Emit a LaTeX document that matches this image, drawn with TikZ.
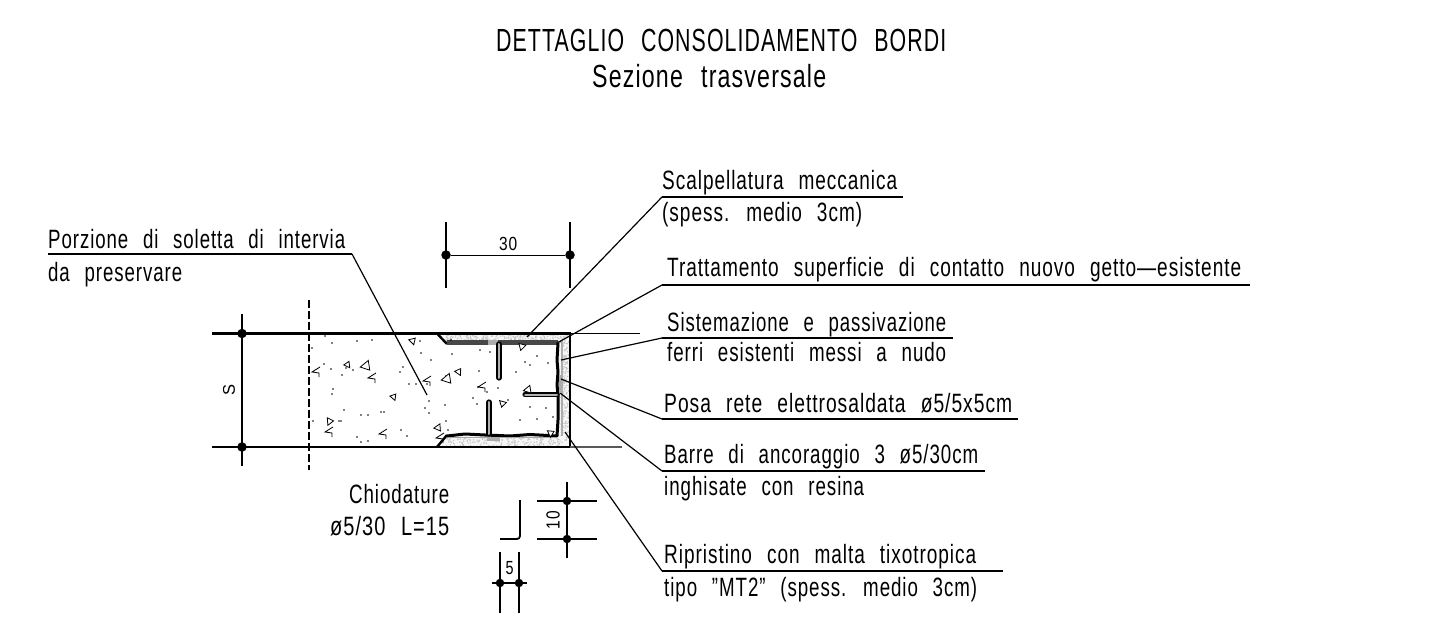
\documentclass[tikz,border=0pt]{standalone}
\usepackage{fontspec}
\usepackage{graphicx}
\setmainfont{Liberation Sans}[LetterSpace=5,WordSpace=2.4]
\newcommand{\ct}[2]{\resizebox{#1pt}{\height}{#2}}
\tikzset{
 x=1pt,y=-1pt,
 lab/.style={anchor=base west,inner sep=0pt,font=\fontsize{26.5}{25}\selectfont},
 ttl/.style={anchor=base west,inner sep=0pt,font=\fontsize{32}{31}\selectfont},
 uline/.style={line width=1.1pt,black},
 leader/.style={line width=1.2pt,black},
 outline/.style={line width=2.4pt,black},
 dimline/.style={line width=1.2pt,black},
 dimdot/.style={circle,fill=black,inner sep=0pt,minimum size=9.5pt},
 rebar/.style={line width=1.6pt,black,double=gray!60,double distance=2pt,line cap=round,line join=round},
 stone/.style={line width=.8pt,black,fill=white},
}
\begin{document}
\begin{tikzpicture}
\useasboundingbox (0,0) rectangle (1430,636);
\fill[white] (0,0) rectangle (1430,636);
% title
\node[ttl] (t1) at (496,52) {\ct{450}{DETTAGLIO CONSOLIDAMENTO BORDI}};
\node[ttl] (t2) at (592,88) {\ct{234}{Sezione trasversale}};
% mortar
\fill[gray!7] (437,334) -- (570,334) -- (570,447) -- (437,447) -- (447,436) -- (557,436) -- (557,343) -- (447,343) -- cycle;
\pgfmathsetseed{11}
\foreach \i in {1,...,170}{
 \pgfmathsetmacro{\px}{446+rnd*122}\pgfmathsetmacro{\py}{335+rnd*6}
 \fill[gray!45] (\px,\py) circle (.8pt);}
\foreach \i in {1,...,170}{
 \pgfmathsetmacro{\px}{446+rnd*122}\pgfmathsetmacro{\py}{438+rnd*8}
 \fill[gray!45] (\px,\py) circle (.8pt);}
\foreach \i in {1,...,160}{
 \pgfmathsetmacro{\px}{561+rnd*8}\pgfmathsetmacro{\py}{342+rnd*96}
 \fill[gray!45] (\px,\py) circle (.8pt);}
% section outline
\coordinate (tl) at (212,333.5);
\coordinate (c1) at (437,333.5);
\coordinate (c2) at (447,344);
\coordinate (tr) at (570,333.5);
\coordinate (br) at (570,447);
\coordinate (bl) at (212,447);
\coordinate (c3) at (437,447);
\coordinate (c4) at (447,435);
\draw[outline] (tl) -- (tr) -- (br) -- (bl);
\draw[outline] (c1) -- (c2);
\draw[outline] (c3) -- (c4);
\draw[line width=1pt,black] (tr) -- (640,333.5);
\draw[line width=1.4pt,gray!70!black] (br) -- (622,447);
\draw[line width=1.2pt,black,dash pattern=on 8pt off 3pt] (309,300) -- (309,470);
% treatment layers
\draw[line width=2.2pt,gray!65] (555,342) -- (562,342) -- (562,436);
\draw[line width=5pt,black!72] (447,342.5) -- (558,342.5);
\draw[line width=3pt,black,line join=round]
 (558,343) -- (557,360) -- (558,372) -- (557,385) -- (558,394)
 -- (558,420) -- (557,436) -- (530,434.5) -- (510,436) -- (485,435) -- (465,434) -- (447,436);
\draw[line width=1pt,gray!70] (449,437.5) -- (556,437.5);
\fill[gray!65] (487,437) rectangle (500,441);
\fill[gray!65] (559,375) rectangle (563,392);
\fill[gray!65] (488,340) rectangle (498,345);
\draw[rebar] (499,344) -- (499,378);
\draw[rebar] (489,402) -- (489,434);
\draw[rebar] (525,394.5) -- (557,394.5);
% dimension S
\coordinate (s0) at (242,314);
\coordinate (s1) at (242,466);
\draw[dimline] (s0) -- (s1);
\node[dimdot] (sa) at (242,333.5) {};
\node[dimdot] (sb) at (242,447) {};
\node[rotate=90,inner sep=0pt,font=\fontsize{17}{17}\selectfont] (stxt) at (229,390) {\ct{11}{S}};
% dimension 30
\coordinate (a0) at (446,222);
\coordinate (a1) at (446,288);
\coordinate (b0) at (570,222);
\coordinate (b1) at (570,288);
\draw[dimline] (a0) -- (a1);
\draw[dimline] (b0) -- (b1);
\node[dimdot] (da) at (446,255) {};
\node[dimdot] (db) at (570,255) {};
\draw[line width=.9pt] (da) -- (db);
\node[anchor=base west,inner sep=0pt,font=\fontsize{19}{17}\selectfont] (n30) at (499,251) {\ct{18}{30}};
% concrete
\foreach \x/\y in {325/336,332/343,357/341,372/340,312/348,324/364,331/369,353/370,342/375,346/368,333/389,332/394,344/410,361/415,368/415,381/412,384/412,357/437,361/442,368/441,401/430,407/436,313/421,339/421,341/421,403/367,420/341,421/353,431/360,446/376,429/401,429/413,425/408,400/372,409/384,416/384,427/384,445/405,446/421,448/430,
 451/340,452/354,480/350,490/352,479/371,478/387,498/388,508/400,516/372,525/362,530/365,537/356,548/363,530/407,537/419,520/420,553/417,546/408,487/392,473/398,477/404}{
 \fill (\x,\y) circle (.8pt);}
\foreach \x/\y/\r/\s in {412/341/80/3.4,347/365/100/3.2,366/365/-15/5,393/397/85/3.2,329/421/40/3.6,447/378/-15/5,458/372/90/3.4,503/403/-70/3.4,438/427/-20/3.6,522/347/170/3.6,528/389/-15/4,550/433/60/3.4}{
 \draw[stone,rotate around={\r:(\x,\y)}] (\x-\s,\y+\s*.7) -- (\x+\s,\y+\s*.8) -- (\x+\s*.2,\y-\s) -- cycle;}
\foreach \x/\y in {316/372,372/378,427/381,482/387,329/432,383/434,440/438}{
 \draw[line width=.8pt] (\x+4,\y-5) -- (\x-4,\y) -- (\x+3,\y+1) -- (\x+3,\y+5);}
% anchor points of leaders
\coordinate (p1) at (427,395);
\coordinate (p2) at (527,337);
\coordinate (p3) at (557,343);
\coordinate (p4) at (561,360);
\coordinate (p5) at (561,379);
\coordinate (p6) at (560,393);
\coordinate (p7) at (565,432);
% underlines
\coordinate (u1a) at (48,254);\coordinate (u1b) at (352,254);
\coordinate (u2a) at (662,197);\coordinate (u2b) at (903,197);
\coordinate (u3a) at (662,285);\coordinate (u3b) at (1250,285);
\coordinate (u4a) at (662,338);\coordinate (u4b) at (953,338);
\coordinate (u5a) at (662,419);\coordinate (u5b) at (1018,419);
\coordinate (u6a) at (662,471);\coordinate (u6b) at (985,471);
\coordinate (u7a) at (662,571);\coordinate (u7b) at (1003,571);
\foreach \i in {1,...,7}{\draw[uline] (u\i a) -- (u\i b);}
\draw[leader] (u1b) -- (p1);
\draw[leader] (u2a) -- (p2);
\draw[leader] (u3a) -- (p3);
\draw[leader] (u4a) -- (p4);
\draw[leader] (u5a) -- (p5);
\draw[leader] (u6a) -- (p6);
\draw[leader] (u7a) -- (p7);
% labels
\node[lab] (l1) at (48,249) {\ct{297}{Porzione di soletta di intervia}};
\node[lab] (l1b) at (48,282) {\ct{134}{da preservare}};
\node[lab] (l2) at (662,190) {\ct{235}{Scalpellatura meccanica}};
\node[lab] (l2b) at (662,222) {\ct{200}{(spess. medio 3cm)}};
\node[lab] (l3) at (667,277) {\ct{574}{Trattamento superficie di contatto nuovo getto—esistente}};
\node[lab] (l4) at (667,331) {\ct{279}{Sistemazione e passivazione}};
\node[lab] (l4b) at (667,361) {\ct{279}{ferri esistenti messi a nudo}};
\node[lab] (l5) at (664,412) {\ct{348}{Posa rete elettrosaldata ø5/5x5cm}};
\node[lab] (l6) at (664,463) {\ct{314}{Barre di ancoraggio 3 ø5/30cm}};
\node[lab] (l6b) at (664,495) {\ct{200}{inghisate con resina}};
\node[lab] (l7) at (664,563) {\ct{312}{Ripristino con malta tixotropica}};
\node[lab] (l7b) at (664,596) {\ct{313}{tipo "MT2" (spess. medio 3cm)}};
\node[lab] (c1t) at (349,503) {\ct{100}{Chiodature}};
\node[lab] (c2t) at (330,535) {\ct{119}{ø5/30 L=15}};
% hook
\coordinate (h1) at (520,500);
\coordinate (h2) at (520,539);
\coordinate (h3) at (500,539);
\draw[line width=1.8pt,rounded corners=3pt] (h1) -- (h2) -- (h3);
% dimension 10
\coordinate (x0) at (567,482);\coordinate (x1) at (567,558);
\coordinate (x2) at (537,501);\coordinate (x3) at (597,501);
\coordinate (x4) at (537,539);\coordinate (x5) at (597,539);
\draw[dimline] (x0) -- (x1);
\draw[dimline] (x2) -- (x3);
\draw[dimline] (x4) -- (x5);
\node[dimdot,minimum size=8.5pt] (xa) at (567,501) {};
\node[dimdot,minimum size=8.5pt] (xb) at (567,539) {};
\node[rotate=90,inner sep=0pt,font=\fontsize{19}{17}\selectfont] (n10) at (553,520) {\ct{18}{10}};
% dimension 5
\coordinate (y0) at (500,552);\coordinate (y1) at (500,613);
\coordinate (y2) at (519,552);\coordinate (y3) at (519,613);
\coordinate (y4) at (492,583);\coordinate (y5) at (527,583);
\draw[dimline] (y0) -- (y1);
\draw[dimline] (y2) -- (y3);
\draw[dimline] (y4) -- (y5);
\node[dimdot,minimum size=8.5pt] (ya) at (500,583) {};
\node[dimdot,minimum size=8.5pt] (yb) at (519,583) {};
\node[inner sep=0pt,font=\fontsize{19}{17}\selectfont] (n5) at (509.5,568) {\ct{8}{5}};
\end{tikzpicture}
\end{document}
